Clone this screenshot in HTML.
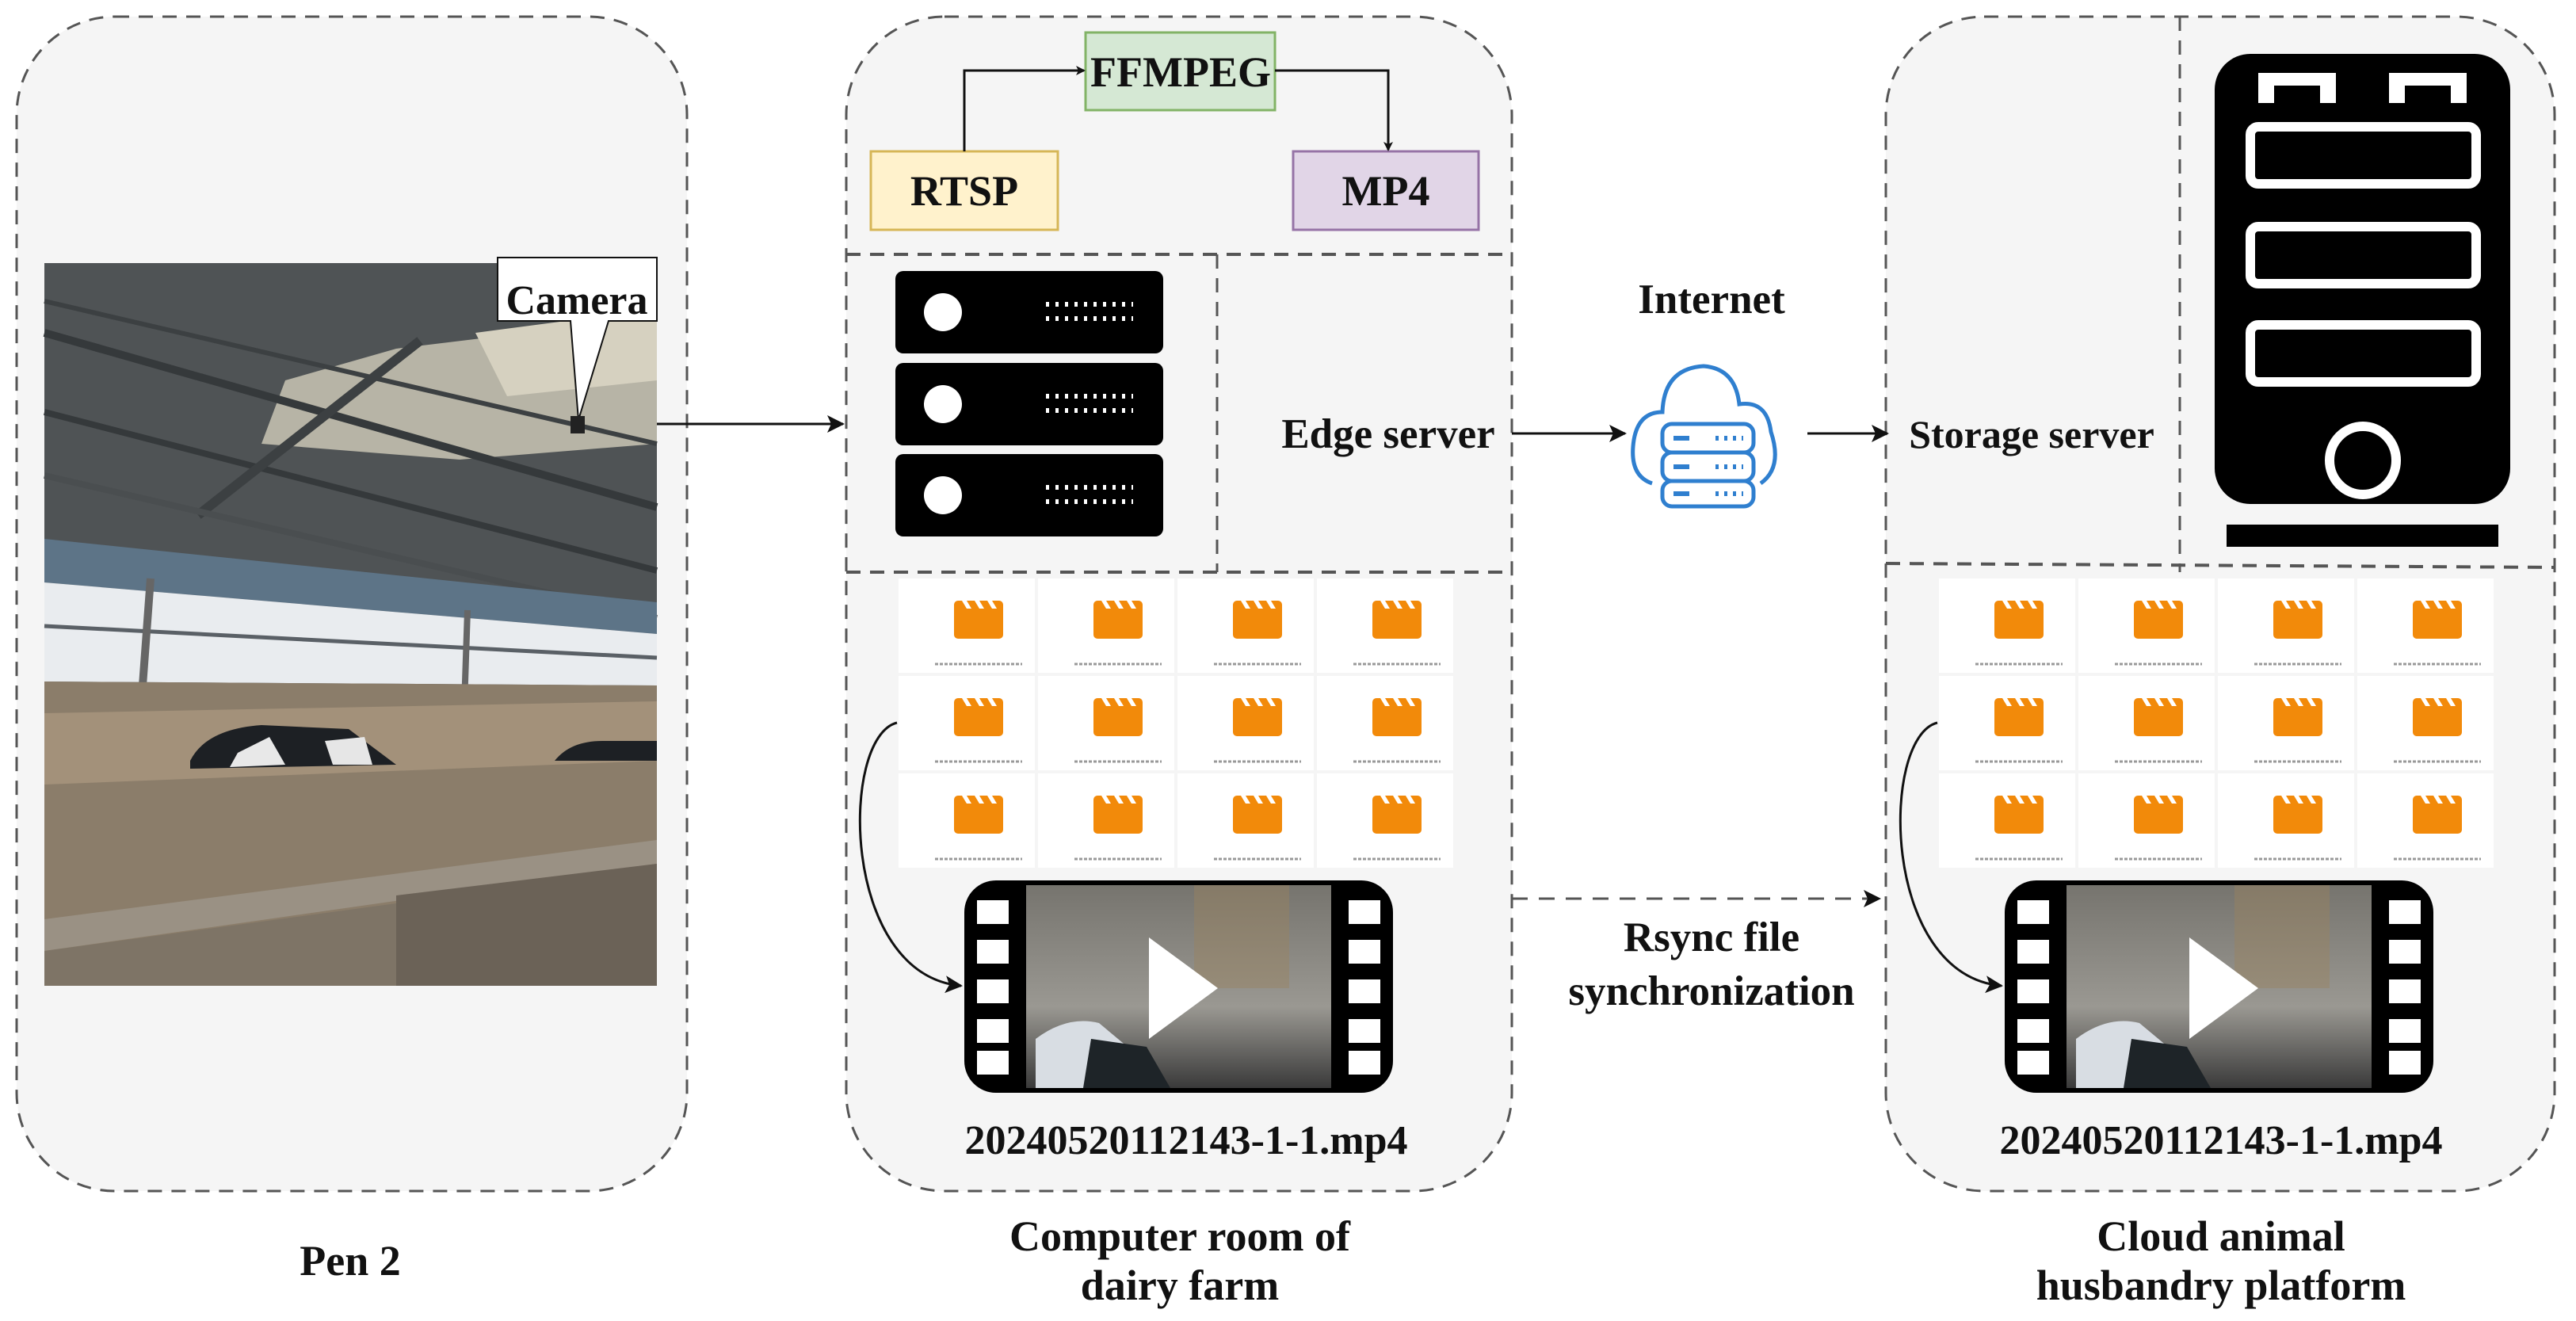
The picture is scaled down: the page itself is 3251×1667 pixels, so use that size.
<!DOCTYPE html>
<html><head><meta charset="utf-8"><style>
html,body{margin:0;padding:0;background:#fff;width:3251px;height:1667px;overflow:hidden}
svg{display:block}
text{font-family:"Liberation Serif",serif;font-weight:bold;fill:#111}
</style></head><body>
<svg width="3251" height="1667" viewBox="0 0 3251 1667" xmlns="http://www.w3.org/2000/svg">
<defs>
<marker id="ah" markerWidth="12" markerHeight="12" refX="10" refY="6" orient="auto" markerUnits="userSpaceOnUse"><path d="M0,0 L12,6 L0,12 L3,6 z" fill="#111"/></marker>
<marker id="ahb" markerWidth="22" markerHeight="22" refX="20" refY="11" orient="auto" markerUnits="userSpaceOnUse"><path d="M0,0 L22,11 L0,22 L5,11 z" fill="#111"/></marker>
<g id="cell">
<rect x="0" y="0" width="172" height="119" fill="#fff"/>
<rect x="70" y="28" width="62" height="48" rx="5" fill="#f28a0a"/>
<path d="M80,28 l6,10 h6 l-6,-10z M96,28 l6,10 h6 l-6,-10z M112,28 l6,10 h6 l-6,-10z" fill="#fff"/>
<line x1="46" y1="108" x2="156" y2="108" stroke="#999" stroke-width="3" stroke-dasharray="4,2"/>
</g>
<g id="grid">
<use href="#cell" x="0" y="0"/><use href="#cell" x="176" y="0"/><use href="#cell" x="352" y="0"/><use href="#cell" x="528" y="0"/>
<use href="#cell" x="0" y="123"/><use href="#cell" x="176" y="123"/><use href="#cell" x="352" y="123"/><use href="#cell" x="528" y="123"/>
<use href="#cell" x="0" y="246"/><use href="#cell" x="176" y="246"/><use href="#cell" x="352" y="246"/><use href="#cell" x="528" y="246"/>
</g>
<linearGradient id="vg" x1="0" y1="0" x2="0" y2="1"><stop offset="0" stop-color="#76746e"/><stop offset="0.6" stop-color="#9a9892"/><stop offset="1" stop-color="#3a3a3a"/></linearGradient>
<g id="video">
<rect x="0" y="0" width="541" height="268" rx="40" fill="#000"/>
<rect x="16" y="25" width="40" height="30" fill="#fff"/><rect x="16" y="75" width="40" height="30" fill="#fff"/><rect x="16" y="125" width="40" height="30" fill="#fff"/><rect x="16" y="175" width="40" height="30" fill="#fff"/><rect x="16" y="215" width="40" height="30" fill="#fff"/>
<rect x="485" y="25" width="40" height="30" fill="#fff"/><rect x="485" y="75" width="40" height="30" fill="#fff"/><rect x="485" y="125" width="40" height="30" fill="#fff"/><rect x="485" y="175" width="40" height="30" fill="#fff"/><rect x="485" y="215" width="40" height="30" fill="#fff"/>
<rect x="78" y="6" width="385" height="256" fill="url(#vg)"/>
<rect x="290" y="6" width="120" height="130" fill="#9a8360" opacity="0.45"/>
<path d="M90,262 L90,200 Q130,170 170,180 L230,230 L230,262z" fill="#d8dde3"/>
<path d="M150,262 L160,200 L230,210 L260,262z" fill="#1e2428"/>
<path d="M233,72 L320,136 L233,200z" fill="#fff"/>
</g>
</defs>

<rect x="21" y="21" width="846" height="1482" rx="124" fill="#f5f5f5" stroke="#555" stroke-width="3" stroke-dasharray="18,12"/>
<rect x="1068" y="21" width="840" height="1482" rx="124" fill="#f5f5f5" stroke="#555" stroke-width="3" stroke-dasharray="18,12"/>
<rect x="2380" y="21" width="844" height="1482" rx="124" fill="#f5f5f5" stroke="#555" stroke-width="3" stroke-dasharray="18,12"/>

<g>
<rect x="56" y="332" width="773" height="912" fill="#4f5355"/>
<polygon points="360,480 500,440 829,400 829,560 580,580 330,560" fill="#b7b4a6"/>
<polygon points="600,420 829,390 829,480 640,500" fill="#d6d1c0"/>
<line x1="56" y1="420" x2="829" y2="640" stroke="#35393b" stroke-width="10"/>
<line x1="56" y1="520" x2="829" y2="720" stroke="#35393b" stroke-width="8"/>
<line x1="56" y1="380" x2="829" y2="560" stroke="#3c4042" stroke-width="6"/>
<line x1="250" y1="650" x2="530" y2="430" stroke="#3c4042" stroke-width="12"/>
<line x1="56" y1="600" x2="829" y2="780" stroke="#4a4e50" stroke-width="8"/>
<polygon points="56,680 829,760 829,800 56,735" fill="#5d7487"/>
<polygon points="56,735 829,800 829,865 56,860" fill="#e9ecef"/>
<line x1="56" y1="790" x2="829" y2="830" stroke="#5a6066" stroke-width="5"/>
<line x1="190" y1="730" x2="170" y2="1000" stroke="#666" stroke-width="10"/>
<line x1="590" y1="770" x2="585" y2="920" stroke="#666" stroke-width="8"/>
<polygon points="56,860 829,865 829,1244 56,1244" fill="#8b7d6a"/>
<polygon points="56,900 829,885 829,960 56,990" fill="#a3917a"/>
<path d="M240,960 Q260,920 330,915 L440,920 L500,965 L240,970z" fill="#1d2024"/>
<path d="M300,950 L340,930 L360,965 L290,968z" fill="#e8e8e8"/>
<path d="M410,935 L460,930 L470,965 L420,965z" fill="#e6e6e6"/>
<path d="M700,960 Q720,935 760,935 L829,935 L829,960z" fill="#1d2024"/>
<polygon points="56,1160 829,1060 829,1090 56,1200" fill="#9a9184"/>
<polygon points="500,1130 829,1090 829,1244 500,1244" fill="#6b6257"/>
<polygon points="56,1200 500,1140 500,1244 56,1244" fill="#7e7466"/>
</g>
<path d="M628,325 H829 V405 H768 L730,530 L720,405 H628 Z" fill="#fff" stroke="#111" stroke-width="2"/>
<rect x="720" y="525" width="18" height="22" fill="#222"/>
<text x="728" y="396" font-size="52" text-anchor="middle">Camera</text>
<line x1="829" y1="535" x2="1064" y2="535" stroke="#111" stroke-width="3" marker-end="url(#ahb)"/>

<rect x="1370" y="41" width="239" height="98" fill="#d5e8d4" stroke="#82b366" stroke-width="3"/>
<text x="1490" y="109" font-size="54" text-anchor="middle">FFMPEG</text>
<rect x="1099" y="191" width="236" height="99" fill="#fff2cc" stroke="#d6b656" stroke-width="3"/>
<text x="1217" y="259" font-size="54" text-anchor="middle">RTSP</text>
<rect x="1632" y="191" width="234" height="99" fill="#e1d5e7" stroke="#9673a6" stroke-width="3"/>
<text x="1749" y="259" font-size="54" text-anchor="middle">MP4</text>
<polyline points="1217,191 1217,89 1368,89" fill="none" stroke="#111" stroke-width="3" marker-end="url(#ah)"/>
<polyline points="1609,89 1752,89 1752,189" fill="none" stroke="#111" stroke-width="3" marker-end="url(#ah)"/>

<line x1="1068" y1="321" x2="1908" y2="321" stroke="#555" stroke-width="4" stroke-dasharray="18,12"/>
<line x1="1536" y1="321" x2="1536" y2="722" stroke="#555" stroke-width="3" stroke-dasharray="18,12"/>
<line x1="1068" y1="722" x2="1908" y2="722" stroke="#555" stroke-width="4" stroke-dasharray="18,12"/>

<g fill="#000">
<rect x="1130" y="342" width="338" height="104" rx="10"/>
<rect x="1130" y="458" width="338" height="104" rx="10"/>
<rect x="1130" y="573" width="338" height="104" rx="10"/>
</g>
<g fill="#fff">
<ellipse cx="1190" cy="394" rx="24" ry="24"/><ellipse cx="1190" cy="510" rx="24" ry="24"/><ellipse cx="1190" cy="625" rx="24" ry="24"/>
</g>
<g stroke="#fff" stroke-width="6" stroke-dasharray="4,8">
<line x1="1320" y1="384" x2="1430" y2="384"/><line x1="1320" y1="402" x2="1430" y2="402"/>
<line x1="1320" y1="500" x2="1430" y2="500"/><line x1="1320" y1="518" x2="1430" y2="518"/>
<line x1="1320" y1="615" x2="1430" y2="615"/><line x1="1320" y1="633" x2="1430" y2="633"/>
</g>
<text x="1752" y="565" font-size="53" text-anchor="middle">Edge server</text>

<text x="2160" y="395" font-size="53" text-anchor="middle">Internet</text>
<line x1="1908" y1="547" x2="2051" y2="547" stroke="#111" stroke-width="3" marker-end="url(#ahb)"/>
<g fill="none" stroke="#2f7fcf" stroke-width="5">
<path d="M2085,610 Q2055,600 2062,555 Q2068,520 2098,520 Q2100,465 2150,462 Q2190,465 2195,510 Q2230,505 2235,545 Q2250,590 2222,610"/>
<rect x="2098" y="535" width="115" height="36" rx="12"/>
<rect x="2098" y="571" width="115" height="36" rx="12"/>
<rect x="2098" y="607" width="115" height="32" rx="12"/>
</g>
<g stroke="#2f7fcf" stroke-width="6"><line x1="2112" y1="553" x2="2132" y2="553"/><line x1="2112" y1="589" x2="2132" y2="589"/><line x1="2112" y1="623" x2="2132" y2="623"/></g>
<g stroke="#2f7fcf" stroke-width="6" stroke-dasharray="4,7"><line x1="2165" y1="553" x2="2200" y2="553"/><line x1="2165" y1="589" x2="2200" y2="589"/><line x1="2165" y1="623" x2="2200" y2="623"/></g>
<line x1="2281" y1="547" x2="2382" y2="547" stroke="#111" stroke-width="3" marker-end="url(#ahb)"/>

<line x1="2751" y1="21" x2="2751" y2="722" stroke="#555" stroke-width="3" stroke-dasharray="18,12"/>
<line x1="2380" y1="711" x2="3224" y2="716" stroke="#555" stroke-width="4" stroke-dasharray="18,12"/>
<text x="2564" y="565" font-size="50" text-anchor="middle">Storage server</text>
<rect x="2795" y="68" width="373" height="568" rx="45" fill="#000"/>
<path d="M2850,130 V92 H2948 V130 H2928 V108 H2870 V130 Z" fill="#fff"/>
<path d="M3015,130 V92 H3113 V130 H3093 V108 H3035 V130 Z" fill="#fff"/>
<g fill="none" stroke="#fff" stroke-width="12">
<rect x="2840" y="160" width="285" height="72" rx="10"/>
<rect x="2840" y="286" width="285" height="72" rx="10"/>
<rect x="2840" y="410" width="285" height="72" rx="10"/>
<ellipse cx="2982" cy="581" rx="42" ry="43"/>
</g>
<rect x="2810" y="662" width="343" height="28" fill="#000"/>

<use href="#grid" x="1134" y="730"/>
<use href="#grid" x="2447" y="730"/>

<use href="#video" x="1217" y="1111"/>
<use href="#video" x="2530" y="1111"/>
<path d="M1132,912 C1060,930 1060,1230 1213,1244" fill="none" stroke="#111" stroke-width="3" marker-end="url(#ahb)"/>
<path d="M2445,912 C2373,930 2373,1230 2526,1244" fill="none" stroke="#111" stroke-width="3" marker-end="url(#ahb)"/>
<text x="1497" y="1456" font-size="52" text-anchor="middle">20240520112143-1-1.mp4</text>
<text x="2803" y="1456" font-size="52" text-anchor="middle">20240520112143-1-1.mp4</text>

<line x1="1908" y1="1134" x2="2372" y2="1134" stroke="#555" stroke-width="3" stroke-dasharray="20,14" marker-end="url(#ahb)"/>
<text x="2160" y="1200" font-size="53" text-anchor="middle">Rsync file</text>
<text x="2160" y="1268" font-size="53" text-anchor="middle">synchronization</text>

<text x="442" y="1609" font-size="54" text-anchor="middle">Pen 2</text>
<text x="1489" y="1578" font-size="54" text-anchor="middle">Computer room of</text>
<text x="1489" y="1640" font-size="54" text-anchor="middle">dairy farm</text>
<text x="2803" y="1578" font-size="54" text-anchor="middle">Cloud animal</text>
<text x="2803" y="1640" font-size="54" text-anchor="middle">husbandry platform</text>
</svg>
</body></html>
